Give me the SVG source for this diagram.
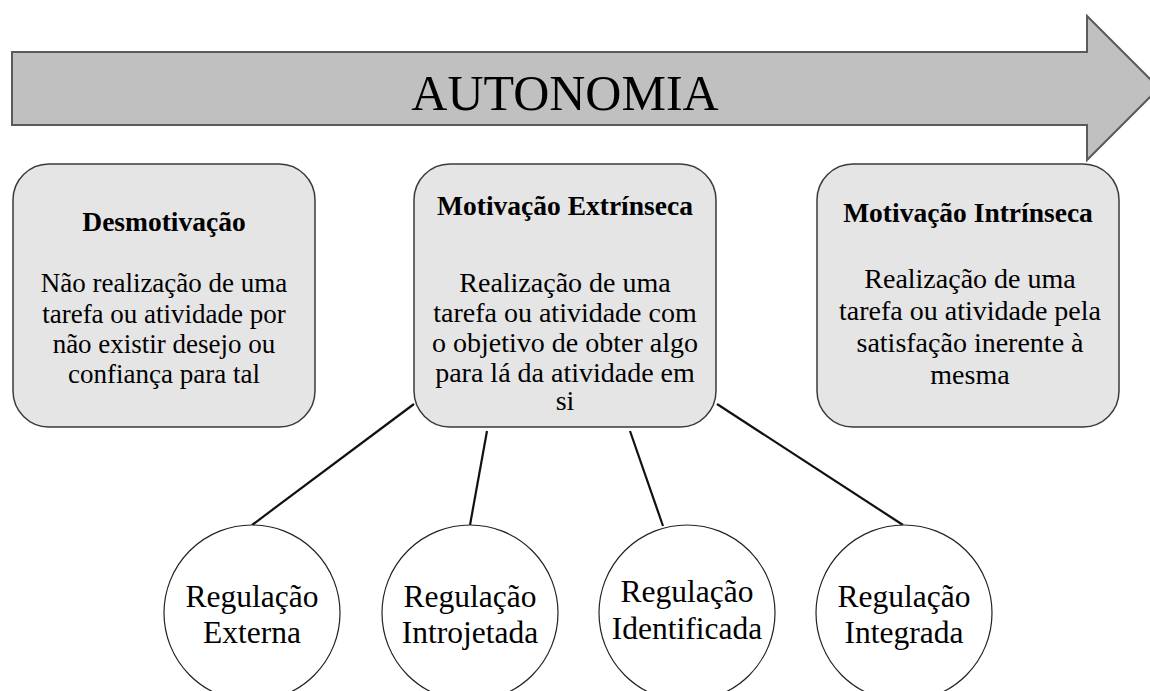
<svg xmlns="http://www.w3.org/2000/svg" width="1150" height="691" viewBox="0 0 1150 691">
<style>
text{font-family:'Liberation Serif','Times New Roman',Times,'DejaVu Serif',serif;fill:#000;text-anchor:middle}
.title{font-size:27.5px;font-weight:bold}
.b1{font-size:27px}
.b2{font-size:28px}
.circ{font-size:31.5px}
.box{fill:#e5e5e5;stroke:#3a3a3a;stroke-width:1.5}
.node{fill:#fff;stroke:#222;stroke-width:1.2}
.conn{stroke:#111;stroke-width:2.2;fill:none}
</style>
<rect width="1150" height="691" fill="#fff"/>
<g id="arrow">
<polygon points="12,52 1087,52 1087,16 1159,88 1087,160 1087,125 12,125" fill="#c0c0c0" stroke="#5a5a5a" stroke-width="2"/>
<text x="565" y="110" font-size="50">AUTONOMIA</text>
</g>
<g id="connectors">
<line class="conn" x1="414" y1="404" x2="252" y2="525"/>
<line class="conn" x1="487" y1="431" x2="470" y2="525"/>
<line class="conn" x1="630" y1="431" x2="663" y2="526"/>
<line class="conn" x1="717" y1="404" x2="903" y2="525"/>
</g>
<g id="desmotivacao">
<rect class="box" x="13" y="164" width="302" height="263" rx="36"/>
<text class="title" x="164" y="231">Desmotivação</text>
<text class="b1" x="164" y="292">Não realização de uma</text>
<text class="b1" x="164" y="323">tarefa ou atividade por</text>
<text class="b1" x="164" y="353">não existir desejo ou</text>
<text class="b1" x="164" y="383">confiança para tal</text>
</g>
<g id="extrinseca">
<rect class="box" x="414" y="164" width="302" height="263" rx="36"/>
<text class="title" x="565" y="215">Motivação Extrínseca</text>
<text class="b2" x="565" y="292">Realização de uma</text>
<text class="b2" x="565" y="322">tarefa ou atividade com</text>
<text class="b2" x="565" y="352">o objetivo de obter algo</text>
<text class="b2" x="565" y="382">para lá da atividade em</text>
<text class="b2" x="565" y="410">si</text>
</g>
<g id="intrinseca">
<rect class="box" x="817" y="164" width="302" height="263" rx="36"/>
<text class="title" x="968" y="222">Motivação Intrínseca</text>
<text class="b2" x="970" y="288">Realização de uma</text>
<text class="b2" x="970" y="320">tarefa ou atividade pela</text>
<text class="b2" x="970" y="352">satisfação inerente à</text>
<text class="b2" x="970" y="384">mesma</text>
</g>
<g id="reg-externa">
<ellipse class="node" cx="252" cy="613" rx="88" ry="88"/>
<text class="circ" x="252" y="607">Regulação</text>
<text class="circ" x="252" y="643">Externa</text>
</g>
<g id="reg-introjetada">
<ellipse class="node" cx="470" cy="613" rx="88" ry="88"/>
<text class="circ" x="470" y="607">Regulação</text>
<text class="circ" x="470" y="643">Introjetada</text>
</g>
<g id="reg-identificada">
<ellipse class="node" cx="687" cy="613" rx="88" ry="88"/>
<text class="circ" x="687" y="602">Regulação</text>
<text class="circ" x="687" y="639">Identificada</text>
</g>
<g id="reg-integrada">
<ellipse class="node" cx="904" cy="613" rx="88" ry="88"/>
<text class="circ" x="904" y="607">Regulação</text>
<text class="circ" x="904" y="643">Integrada</text>
</g>
</svg>
